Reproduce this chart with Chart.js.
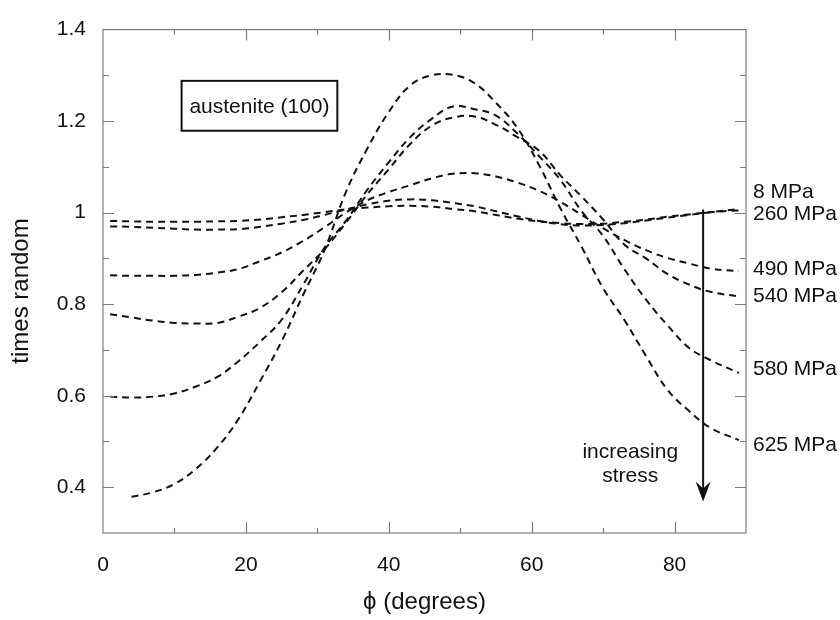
<!DOCTYPE html>
<html>
<head>
<meta charset="utf-8">
<title>austenite (100) texture vs stress</title>
<script src="https://cdn.jsdelivr.net/npm/chart.js@4.4.1/dist/chart.umd.min.js"></script>
<style>
  html, body { margin: 0; padding: 0; background: #ffffff; }
  #wrap { width: 840px; height: 620px; }
</style>
</head>
<body>
<div id="wrap"><canvas id="c" width="840" height="620"></canvas></div>
<script>
// tilt angle phi (degrees)
const phi = [1, 4, 7, 10, 13, 16, 19, 22, 25, 28, 31, 34, 37, 40, 43, 46, 49, 52, 55, 58, 61, 64, 67, 70, 73, 76, 79, 82, 85, 89];

// (100) pole intensity, times random, one array per applied stress
const mpa8   = [0.982, 0.981, 0.980, 0.980, 0.980, 0.981, 0.982, 0.985, 0.990, 0.995, 1.001, 1.007, 1.011, 1.014, 1.015, 1.013, 1.008, 1.003, 0.995, 0.987, 0.981, 0.977, 0.975, 0.976, 0.980, 0.985, 0.991, 0.996, 1.001, 1.005];
const mpa260 = [0.970, 0.969, 0.967, 0.965, 0.963, 0.963, 0.964, 0.969, 0.976, 0.984, 0.995, 1.007, 1.018, 1.026, 1.029, 1.027, 1.021, 1.014, 1.003, 0.992, 0.982, 0.975, 0.972, 0.973, 0.977, 0.983, 0.989, 0.995, 1.001, 1.008];
const mpa490 = [0.863, 0.862, 0.862, 0.862, 0.864, 0.869, 0.877, 0.894, 0.913, 0.938, 0.968, 1.000, 1.027, 1.045, 1.060, 1.075, 1.085, 1.086, 1.079, 1.066, 1.048, 1.024, 0.995, 0.966, 0.940, 0.918, 0.901, 0.889, 0.878, 0.872];
const mpa540 = [0.778, 0.771, 0.764, 0.759, 0.758, 0.759, 0.773, 0.792, 0.826, 0.873, 0.920, 0.978, 1.040, 1.095, 1.150, 1.190, 1.208, 1.210, 1.192, 1.165, 1.136, 1.082, 1.035, 0.985, 0.930, 0.900, 0.866, 0.843, 0.827, 0.817];
const mpa580 = [0.598, 0.596, 0.598, 0.605, 0.620, 0.641, 0.676, 0.718, 0.766, 0.842, 0.923, 0.982, 1.050, 1.110, 1.165, 1.205, 1.232, 1.226, 1.212, 1.173, 1.124, 1.072, 1.003, 0.949, 0.876, 0.810, 0.754, 0.705, 0.678, 0.650];
const mpa625 = [null, 0.379, 0.389, 0.407, 0.440, 0.487, 0.550, 0.632, 0.719, 0.820, 0.918, 1.045, 1.140, 1.220, 1.278, 1.300, 1.301, 1.283, 1.240, 1.185, 1.105, 1.010, 0.925, 0.835, 0.765, 0.687, 0.613, 0.567, 0.530, 0.503];

const seriesValues = [mpa8, mpa260, mpa490, mpa540, mpa580, mpa625];
const stressLabels = ['8 MPa', '260 MPa', '490 MPa', '540 MPa', '580 MPa', '625 MPa'];
// vertical placement of each stress label, in "times random" units
const labelLevels = [1.045, 0.996, 0.877, 0.818, 0.658, 0.492];

// axis tick labels
const xTickLabels = ['0', '20', '40', '60', '80'];
const yTickLabels = ['0.4', '0.6', '0.8', '1', '1.2', '1.4'];

const FONT = "'Liberation Sans', Arial, Helvetica, sans-serif";
const INK = '#111111';
const FRAME = '#7c7c7c';

const datasets = seriesValues.map((vals, i) => ({
  label: stressLabels[i],
  data: phi.map((p, k) => ({ x: p, y: vals[k] })),
  showLine: true,
  borderColor: INK,
  borderWidth: 2,
  borderDash: [7, 5],
  pointRadius: 0,
  tension: 0.4,
  fill: false,
  spanGaps: false
}));

function stepKey(v, step) { return Math.round(v / step); }

// frame, inward tick marks and annotations
const decorations = {
  id: 'decorations',
  afterDraw(chart) {
    const { ctx, chartArea: a, scales: { x, y } } = chart;
    ctx.save();

    // plot frame
    ctx.strokeStyle = FRAME;
    ctx.lineWidth = 1.2;
    ctx.strokeRect(a.left, a.top, a.right - a.left, a.bottom - a.top);

    // inward ticks on all four sides
    ctx.beginPath();
    y.ticks.forEach(t => {
      const k = stepKey(t.value, 0.1);
      if (k <= 3 || k >= 14) return;
      const len = k % 2 === 0 ? 11 : 6;
      const py = Math.round(y.getPixelForValue(t.value)) + 0.5;
      ctx.moveTo(a.left, py); ctx.lineTo(a.left + len, py);
      ctx.moveTo(a.right, py); ctx.lineTo(a.right - len, py);
    });
    x.ticks.forEach(t => {
      const k = stepKey(t.value, 10);
      if (k <= 0 || k >= 9) return;
      const len = k % 2 === 0 ? 11 : 5;
      const px = Math.round(x.getPixelForValue(t.value)) + 0.5;
      ctx.moveTo(px, a.bottom); ctx.lineTo(px, a.bottom - len);
      ctx.moveTo(px, a.top); ctx.lineTo(px, a.top + len);
    });
    ctx.stroke();

    ctx.fillStyle = INK;
    ctx.font = '21px ' + FONT;

    // stress labels at the right edge
    ctx.textAlign = 'left';
    ctx.textBaseline = 'middle';
    stressLabels.forEach((s, i) => {
      ctx.fillText(s, a.right + 7, y.getPixelForValue(labelLevels[i]));
    });

    // boxed title inside the plot
    const bx0 = x.getPixelForValue(11.0), bx1 = x.getPixelForValue(32.8);
    const by0 = y.getPixelForValue(1.288), by1 = y.getPixelForValue(1.179);
    ctx.strokeStyle = INK;
    ctx.lineWidth = 2;
    ctx.strokeRect(bx0, by0, bx1 - bx0, by1 - by0);
    ctx.textAlign = 'center';
    ctx.fillText('austenite (100)', (bx0 + bx1) / 2, (by0 + by1) / 2 + 1);

    // stress direction arrow
    const ax = x.getPixelForValue(84.0);
    const ay0 = y.getPixelForValue(1.007), ay1 = y.getPixelForValue(0.369);
    ctx.lineWidth = 2;
    ctx.beginPath();
    ctx.moveTo(ax, ay0); ctx.lineTo(ax, ay1 - 8);
    ctx.stroke();
    ctx.beginPath();
    ctx.moveTo(ax, ay1);
    ctx.lineTo(ax - 7.5, ay1 - 20);
    ctx.lineTo(ax, ay1 - 13);
    ctx.lineTo(ax + 7.5, ay1 - 20);
    ctx.closePath();
    ctx.fill();

    ctx.fillText('increasing', x.getPixelForValue(73.8), y.getPixelForValue(0.477));
    ctx.fillText('stress', x.getPixelForValue(73.8), y.getPixelForValue(0.425));

    // axis titles
    ctx.font = '24px ' + FONT;
    ctx.fillText('\u03D5 (degrees)', (a.left + a.right) / 2, 602);
    ctx.translate(21, 291);
    ctx.rotate(-Math.PI / 2);
    ctx.fillText('times random', 0, 0);

    ctx.restore();
  }
};

new Chart(document.getElementById('c'), {
  type: 'scatter',
  data: { datasets },
  options: {
    responsive: false,
    devicePixelRatio: 1,
    animation: false,
    events: [],
    layout: { padding: { left: 0, right: 94, top: 25, bottom: 0 } },
    plugins: { legend: { display: false }, tooltip: { enabled: false } },
    scales: {
      x: {
        type: 'linear',
        min: 0, max: 90,
        grid: { display: false, drawTicks: false },
        border: { display: false },
        ticks: {
          stepSize: 10,
          padding: 20,
          color: INK,
          font: { size: 21, family: FONT },
          maxRotation: 0,
          autoSkip: false,
          callback: v => {
            const k = stepKey(v, 10);
            return k % 2 === 0 && k / 2 < xTickLabels.length ? xTickLabels[k / 2] : '';
          }
        },
        afterFit: s => { s.height = 87; }
      },
      y: {
        type: 'linear',
        min: 0.3, max: 1.4,
        grid: { display: false, drawTicks: false },
        border: { display: false },
        ticks: {
          stepSize: 0.1,
          padding: 17,
          color: INK,
          font: { size: 21, family: FONT },
          autoSkip: false,
          callback: v => {
            const k = stepKey(v, 0.1);
            return k >= 4 && k % 2 === 0 ? yTickLabels[(k - 4) / 2] : '';
          }
        },
        afterFit: s => { s.width = 103; }
      }
    }
  },
  plugins: [decorations]
});
</script>
</body>
</html>
